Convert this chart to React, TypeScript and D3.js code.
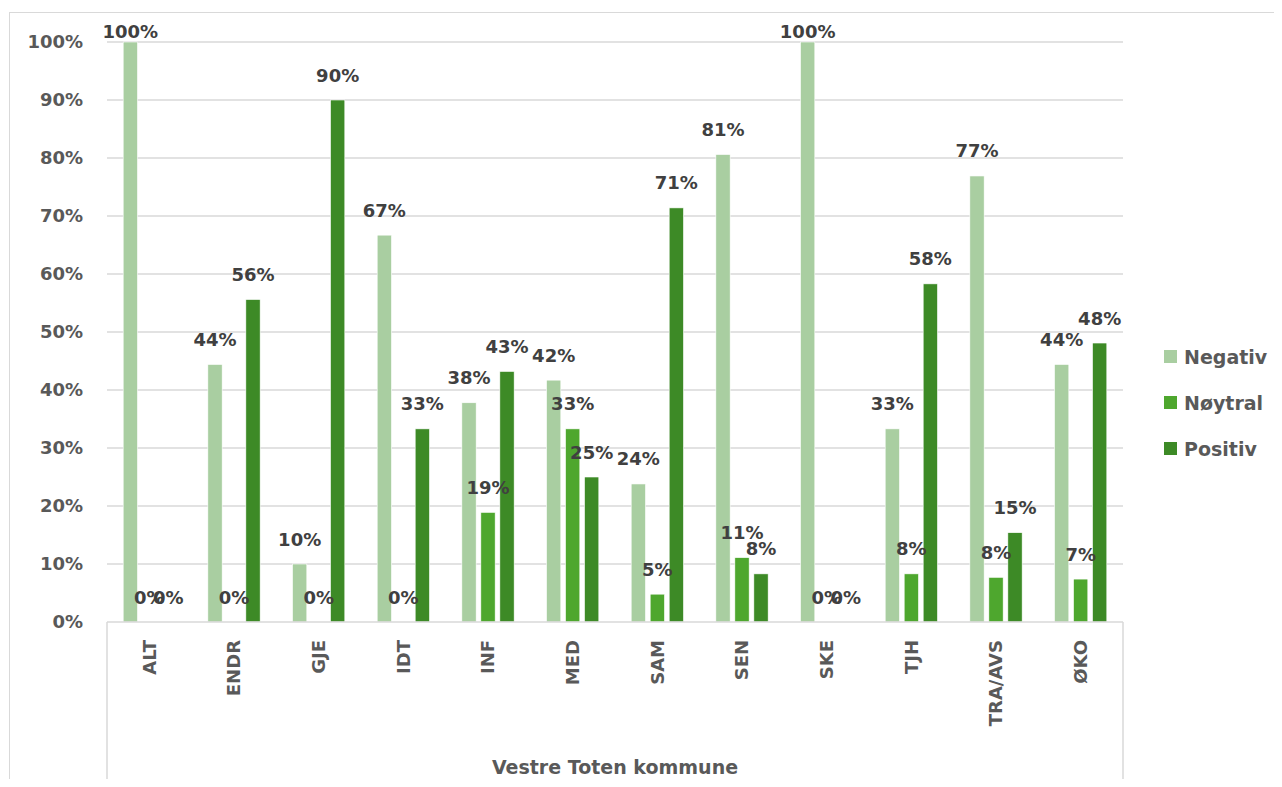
import React from "react";
import * as d3 from "d3";

const categories = ["ALT", "ENDR", "GJE", "IDT", "INF", "MED", "SAM", "SEN", "SKE", "TJH", "TRA/AVS", "ØKO"];
const seriesNames = ["Negativ", "Nøytral", "Positiv"];
const negativ = [100, 44.4, 10, 66.7, 37.8, 41.7, 23.8, 80.6, 100, 33.3, 76.9, 44.4];
const noytral = [0, 0, 0, 0, 18.9, 33.3, 4.8, 11.1, 0, 8.3, 7.7, 7.4];
const positiv = [0, 55.6, 90, 33.3, 43.2, 25, 71.4, 8.3, 0, 58.3, 15.4, 48.1];
const yTicks = [0, 10, 20, 30, 40, 50, 60, 70, 80, 90, 100];
const groupTitle = "Vestre Toten kommune";
const colors = ["#a9cea1", "#4ea72e", "#3d8a26"];

const FONT = "'DejaVu Sans', sans-serif";

export default function App() {
  const W = 1282, H = 787;
  const left = 107, right = 1123, top = 42, bottom = 622;
  const x0 = d3.scaleBand<string>().domain(categories).range([left, right]).paddingInner(0).paddingOuter(0);
  const bw = x0.bandwidth();
  const half = 26.15;
  const x1 = d3.scaleBand<string>().domain(seriesNames).range([-half, half]).paddingInner(0.247).paddingOuter(0);
  const y = d3.scaleLinear().domain([0, 100]).range([bottom, top]);
  const data = [negativ, noytral, positiv];

  return (
    <div style={{ margin: -8 }}>
      <svg width={W} height={H} style={{ display: "block", fontFamily: FONT }}>
        <rect x={0} y={0} width={W} height={H} fill="#fff" />
        <rect x={9.5} y={12.5} width={1300} height={800} fill="none" stroke="#d9d9d9" strokeWidth={1} />
        {yTicks.map((t) => (
          <g key={t}>
            {t > 0 && <line x1={left} x2={right} y1={y(t)} y2={y(t)} stroke="#d9d9d9" strokeWidth={1.3} />}
            <text x={83} y={y(t)} dy="0.36em" textAnchor="end" fontSize={18} fontWeight="bold" fill="#595959">
              {t}%
            </text>
          </g>
        ))}
        {categories.map((c, i) => {
          const cx = (x0(c) as number) + bw / 2;
          return (
            <g key={c}>
              {data.map((arr, s) => {
                const v = arr[i];
                const bx = cx + (x1(seriesNames[s]) as number);
                return (
                  <rect key={s} x={bx} y={y(v)} width={x1.bandwidth()} height={bottom - y(v)} fill={colors[s]} stroke="#fff" strokeWidth={0.6} />
                );
              })}
            </g>
          );
        })}
        {categories.map((c, i) => {
          const cx = (x0(c) as number) + bw / 2;
          return (
            <g key={"l" + c}>
              {data.map((arr, s) => {
                const v = arr[i];
                const bx = cx + (x1(seriesNames[s]) as number) + x1.bandwidth() / 2;
                const by = Math.max(y(v) - 18.5, 37.5);
                return (
                  <text key={s} x={bx} y={by} textAnchor="middle" fontSize={18} fontWeight="bold" fill="#404040">
                    {Math.round(v)}%
                  </text>
                );
              })}
              <text
                transform={`translate(${cx},${640}) rotate(-90)`}
                dy="0.36em"
                textAnchor="end"
                fontSize={18}
                fontWeight="bold"
                fill="#595959"
              >
                {c}
              </text>
            </g>
          );
        })}
        <line x1={left} x2={right} y1={bottom} y2={bottom} stroke="#d9d9d9" strokeWidth={1.5} />
        <line x1={left} x2={left} y1={bottom} y2={781} stroke="#d9d9d9" strokeWidth={1.5} />
        <line x1={right} x2={right} y1={bottom} y2={781} stroke="#d9d9d9" strokeWidth={1.5} />
        <text x={(left + right) / 2} y={767} dy="0.36em" textAnchor="middle" fontSize={19} fontWeight="bold" fill="#595959">
          {groupTitle}
        </text>
        {seriesNames.map((n, s) => (
          <g key={n} transform={`translate(1164,${357 + s * 46})`}>
            <rect x={0} y={-7} width={13} height={13} fill={colors[s]} />
            <text x={20} y={0} dy="0.36em" fontSize={19} fontWeight="bold" fill="#595959">
              {n}
            </text>
          </g>
        ))}
      </svg>
    </div>
  );
}
